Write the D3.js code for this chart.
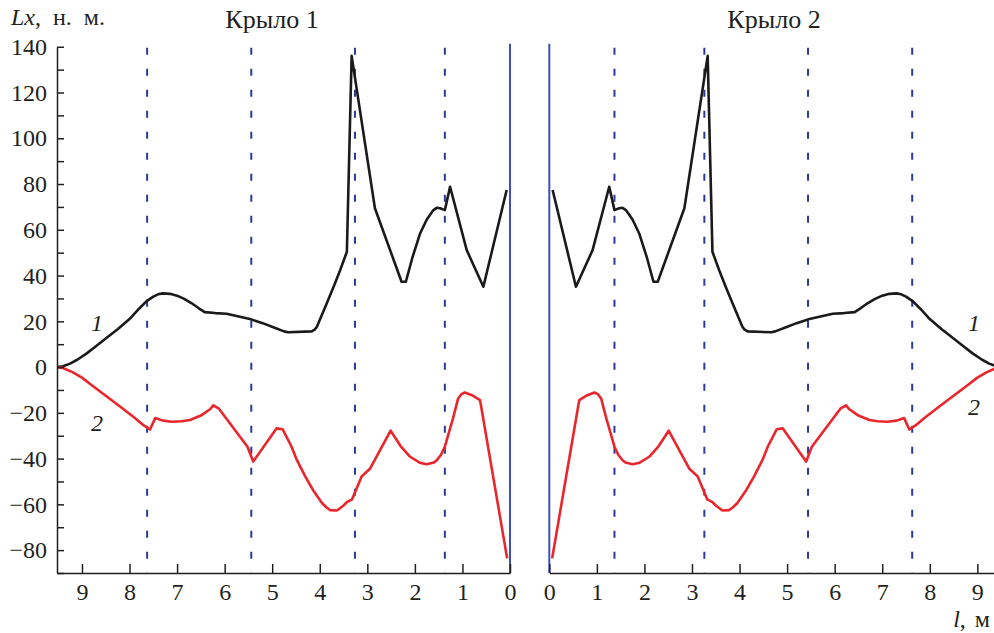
<!DOCTYPE html>
<html>
<head>
<meta charset="utf-8">
<script src="https://cdn.jsdelivr.net/npm/d3@7"></script>
<style>
  body { margin: 0; background: #fff; }
  text { font-family: "Liberation Serif", "Times New Roman", serif; fill: #231f20; }
  .axis text { font-size: 24px; }
  .axis path, .axis line { stroke: #231f20; stroke-width: 1.5px; }
</style>
</head>
<body>
<script>
// curve 1 (black): distance l, m  and moment Lx, N*m
var curve1L = [9.525, 9.4, 9.25, 9.1, 8.9, 8.7, 8.48, 8.25, 8.0, 7.8, 7.64, 7.5, 7.4, 7.3, 7.15, 7.0, 6.85, 6.7, 6.55, 6.42, 6.2, 5.96, 5.47, 5.2, 4.95, 4.75, 4.67, 4.17, 4.1, 4.06, 3.85, 3.7, 3.57, 3.43, 3.33, 2.84, 2.28, 2.19, 2.05, 1.89, 1.75, 1.61, 1.54, 1.47, 1.37, 1.26, 0.91, 0.56, 0.07];
var curve1V = [0, 0.4, 1.5, 3.2, 6, 9.2, 12.8, 16.5, 21, 25.5, 28.8, 30.8, 31.8, 32.2, 32.0, 31.2, 29.8, 28, 25.8, 24.0, 23.6, 23.3, 21.0, 19.2, 17.2, 15.6, 15.2, 15.6, 16.5, 17.6, 28, 35.5, 42.4, 50.4, 136, 69.4, 37.3, 37.3, 48, 58.4, 64.5, 68.6, 69.6, 69.4, 68.6, 78.8, 51.1, 35.1, 77.4];
// curve 2 (red)
var curve2L = [9.525, 9.4, 9.2, 9.0, 8.8, 8.5, 8.2, 7.9, 7.7, 7.57, 7.46, 7.3, 7.11, 6.9, 6.73, 6.5, 6.3, 6.24, 6.12, 5.52, 5.40, 4.91, 4.78, 4.6, 4.48, 4.3, 4.14, 3.95, 3.85, 3.78, 3.64, 3.5, 3.43, 3.32, 3.12, 2.94, 2.51, 2.3, 2.10, 1.9, 1.75, 1.6, 1.54, 1.45, 1.37, 1.2, 1.09, 1.02, 0.95, 0.8, 0.63, 0.06];
var curve2V = [0, -0.4, -2.2, -4.6, -7.8, -12.5, -17.2, -22, -25.5, -27.3, -22.3, -23.4, -23.9, -23.7, -23.1, -21.2, -18.3, -16.7, -18.2, -34.8, -41.3, -26.8, -27.2, -34.5, -40.7, -48, -53.8, -59.5, -61.5, -62.5, -62.7, -60.5, -59, -57.8, -47.8, -44.3, -27.8, -34.5, -39.2, -41.8, -42.5, -41.7, -40.7, -38.3, -34.8, -22.5, -13.7, -11.8, -11.1, -12.3, -14.4, -83.6];
// dashed section lines, m
var sections = [1.37, 3.26, 5.44, 7.63];
var xTicks = [0, 1, 2, 3, 4, 5, 6, 7, 8, 9];
var yTicks = d3.range(-90, 141, 10);
var titles = ["Крыло 1", "Крыло 2"];

var width = 994, height = 633;
var plotTop = 46.75, plotBottom = 573;

var svg = d3.select("body").append("svg").attr("width", width).attr("height", height);

var y = d3.scaleLinear().domain([-90, 140]).range([plotBottom, plotTop]);
var xL = d3.scaleLinear().domain([9.525, 0]).range([57, 510]);
var xR = d3.scaleLinear().domain([0, 9.35]).range([549.3, 994]);

svg.append("clipPath").attr("id", "clipR")
   .append("rect").attr("x", 549).attr("y", 0).attr("width", 445).attr("height", height);
svg.append("clipPath").attr("id", "clipL")
   .append("rect").attr("x", 57).attr("y", 0).attr("width", 454).attr("height", height);

var pts1 = curve1L.map(function(d, i){ return [d, curve1V[i]]; });
var pts2 = curve2L.map(function(d, i){ return [d, curve2V[i]]; });

function drawPanel(x, clip, title, titleX, labelX, label2Y) {
  var g = svg.append("g");

  // dashed section lines
  g.selectAll(".sec").data(sections).enter().append("line")
   .attr("x1", function(d){ return x(d); }).attr("x2", function(d){ return x(d); })
   .attr("y1", plotTop + 1).attr("y2", plotBottom)
   .attr("stroke", "#2b3a96").attr("stroke-width", 2)
   .attr("stroke-dasharray", "7,14");

  // wing root line
  g.append("line")
   .attr("x1", x(0)).attr("x2", x(0))
   .attr("y1", plotTop - 3).attr("y2", plotBottom)
   .attr("stroke", "#3d4fb8").attr("stroke-width", 2);

  var line = d3.line()
    .x(function(d){ return x(d[0]); })
    .y(function(d){ return y(d[1]); });

  var cg = g.append("g").attr("clip-path", "url(#" + clip + ")");
  cg.append("path").datum(pts1).attr("d", line)
    .attr("fill", "none").attr("stroke", "#1a1a1a").attr("stroke-width", 2.6)
    .attr("stroke-linejoin", "round");
  cg.append("path").datum(pts2).attr("d", line)
    .attr("fill", "none").attr("stroke", "#e8262b").attr("stroke-width", 2.6)
    .attr("stroke-linejoin", "round");

  var xAxis = d3.axisBottom(x).tickValues(xTicks).tickSizeInner(-9).tickSizeOuter(0).tickPadding(10);
  g.append("g").attr("class", "axis")
   .attr("transform", "translate(0," + plotBottom + ")")
   .call(xAxis);

  g.append("text").attr("x", titleX).attr("y", 28)
   .attr("text-anchor", "middle").style("font-size", "26px").text(title);

  g.append("text").attr("x", labelX).attr("y", 331).attr("text-anchor", "middle")
   .style("font-size", "24px").style("font-style", "italic").text("1");
  g.append("text").attr("x", labelX).attr("y", label2Y).attr("text-anchor", "middle")
   .style("font-size", "24px").style("font-style", "italic").text("2");
}

drawPanel(xL, "clipL", titles[0], 272, 97, 431);
drawPanel(xR, "clipR", titles[1], 774, 974, 415);

var yAxis = d3.axisLeft(y).tickValues(yTicks).tickSizeInner(-7).tickSizeOuter(0).tickPadding(10)
  .tickFormat(function(d){ return (d % 20 == 0) ? d3.format("")(d) : ""; });
svg.append("g").attr("class", "axis")
   .attr("transform", "translate(57,0)")
   .call(yAxis);

var yl = svg.append("text").attr("x", 11).attr("y", 25).style("font-size", "24px").style("word-spacing", "6px");
yl.append("tspan").style("font-style", "italic").text("Lx");
yl.append("tspan").text(", н. м.");

var xl = svg.append("text").attr("x", 990).attr("y", 627).attr("text-anchor", "end").style("font-size", "24px").style("word-spacing", "3px");
xl.append("tspan").style("font-style", "italic").text("l");
xl.append("tspan").text(", м");
</script>
</body>
</html>
